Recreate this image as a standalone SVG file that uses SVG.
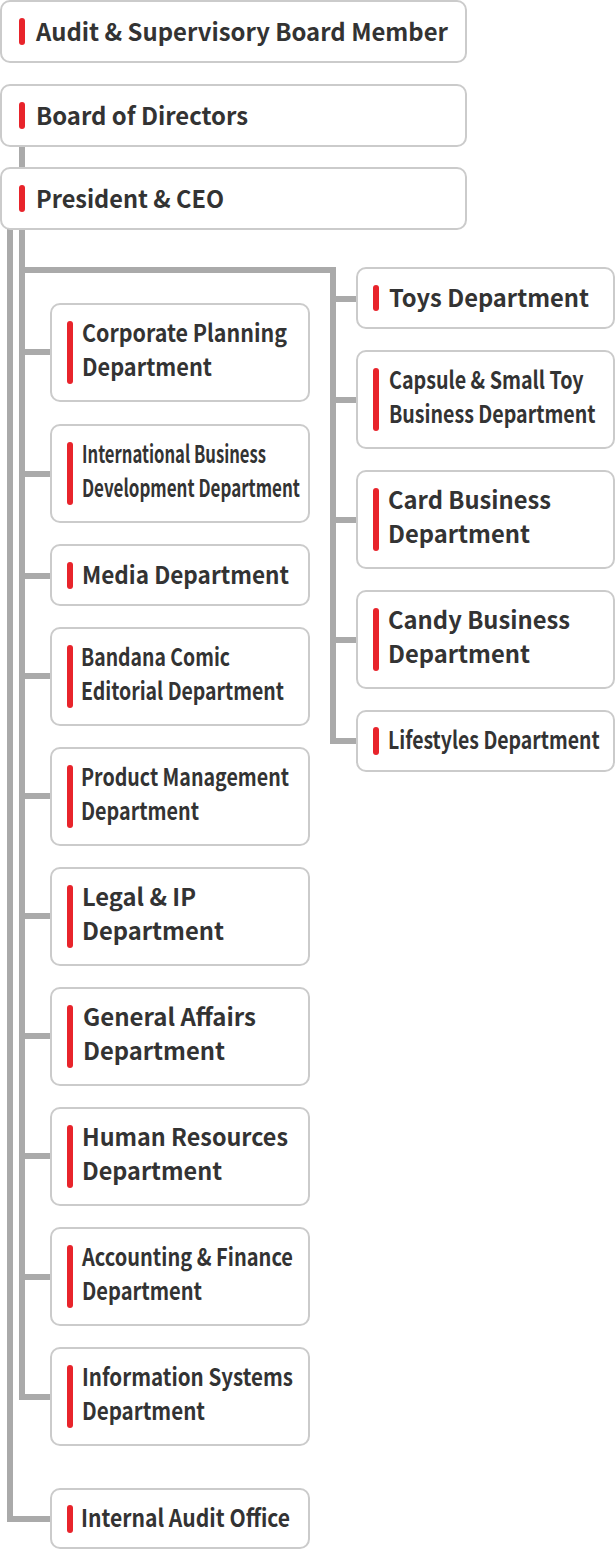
<svg xmlns="http://www.w3.org/2000/svg" width="616" height="1550" viewBox="0 0 616 1550">
<style>
.box{fill:#fff;stroke:#cbcbcb;stroke-width:2}
.bar{fill:#e8242b}
.ln{fill:none;stroke:#aaaaaa;stroke-width:6}
text{font-family:"Noto Sans CJK KR","Noto Sans",sans-serif;font-weight:700;font-size:24px;fill:#333}
</style>
<rect width="616" height="1550" fill="#fff"/>
<g id="connectors">
<path class="ln" d="M22 146V1397H51"/>
<path class="ln" d="M10 229V1519H51"/>
<path class="ln" d="M22 270H333V741H357"/>
<path class="ln" d="M333 299H357M333 400H357M333 520H357M333 640H357"/>
<path class="ln" d="M22 352H51M22 474H51M22 576H51M22 676H51M22 796H51M22 916H51M22 1036H51M22 1156H51M22 1277H51"/>
</g>
<g id="audit"><rect class="box" x="1" y="1" width="465" height="61" rx="9"/><rect class="bar" x="19" y="18" width="6" height="27" rx="3"/><text x="36" y="41" textLength="412" lengthAdjust="spacingAndGlyphs">Audit &amp; Supervisory Board Member</text></g>
<g id="board"><rect class="box" x="1" y="85" width="465" height="61" rx="9"/><rect class="bar" x="19" y="102" width="6" height="27" rx="3"/><text x="36" y="125" textLength="212" lengthAdjust="spacingAndGlyphs">Board of Directors</text></g>
<g id="president"><rect class="box" x="1" y="168" width="465" height="61" rx="9"/><rect class="bar" x="19" y="185" width="6" height="27" rx="3"/><text x="36" y="208" textLength="188" lengthAdjust="spacingAndGlyphs">President &amp; CEO</text></g>
<g id="toys"><rect class="box" x="357" y="268" width="257" height="60" rx="9"/><rect class="bar" x="373" y="285" width="6" height="26" rx="3"/><text x="389" y="307" textLength="200" lengthAdjust="spacingAndGlyphs">Toys Department</text></g>
<g id="capsule"><rect class="box" x="357" y="351" width="257" height="97" rx="9"/><rect class="bar" x="373" y="368" width="6" height="63" rx="3"/><text transform="matrix(0.85 0 0 1 389 389)" textLength="229" lengthAdjust="spacingAndGlyphs">Capsule &amp; Small Toy</text><text transform="matrix(0.85 0 0 1 389 423)" textLength="243" lengthAdjust="spacingAndGlyphs">Business Department</text></g>
<g id="card"><rect class="box" x="357" y="471" width="257" height="97" rx="9"/><rect class="bar" x="373" y="488" width="6" height="63" rx="3"/><text x="388" y="509" textLength="163" lengthAdjust="spacingAndGlyphs">Card Business</text><text x="388" y="543" textLength="142" lengthAdjust="spacingAndGlyphs">Department</text></g>
<g id="candy"><rect class="box" x="357" y="591" width="257" height="97" rx="9"/><rect class="bar" x="373" y="608" width="6" height="63" rx="3"/><text x="388" y="629" textLength="182" lengthAdjust="spacingAndGlyphs">Candy Business</text><text x="388" y="663" textLength="142" lengthAdjust="spacingAndGlyphs">Department</text></g>
<g id="lifestyles"><rect class="box" x="357" y="711" width="257" height="60" rx="9"/><rect class="bar" x="373" y="727" width="6" height="28" rx="3"/><text transform="matrix(0.85 0 0 1 388 749)" textLength="249" lengthAdjust="spacingAndGlyphs">Lifestyles Department</text></g>
<g id="corporate"><rect class="box" x="51" y="304" width="258" height="97" rx="9"/><rect class="bar" x="67" y="321" width="6" height="63" rx="3"/><text x="82" y="342" textLength="205" lengthAdjust="spacingAndGlyphs">Corporate Planning</text><text x="82" y="376" textLength="130" lengthAdjust="spacingAndGlyphs">Department</text></g>
<g id="international"><rect class="box" x="51" y="425" width="258" height="97" rx="9"/><rect class="bar" x="67" y="442" width="6" height="63" rx="3"/><text x="82" y="463" textLength="184" lengthAdjust="spacingAndGlyphs">International Business</text><text x="82" y="497" textLength="218" lengthAdjust="spacingAndGlyphs">Development Department</text></g>
<g id="media"><rect class="box" x="51" y="545" width="258" height="60" rx="9"/><rect class="bar" x="67" y="562" width="6" height="27" rx="3"/><text x="82" y="584" textLength="207" lengthAdjust="spacingAndGlyphs">Media Department</text></g>
<g id="bandana"><rect class="box" x="51" y="628" width="258" height="97" rx="9"/><rect class="bar" x="67" y="645" width="6" height="63" rx="3"/><text x="81" y="666" textLength="149" lengthAdjust="spacingAndGlyphs">Bandana Comic</text><text x="81" y="700" textLength="203" lengthAdjust="spacingAndGlyphs">Editorial Department</text></g>
<g id="product"><rect class="box" x="51" y="748" width="258" height="97" rx="9"/><rect class="bar" x="67" y="765" width="6" height="63" rx="3"/><text x="81" y="786" textLength="208" lengthAdjust="spacingAndGlyphs">Product Management</text><text x="81" y="820" textLength="118" lengthAdjust="spacingAndGlyphs">Department</text></g>
<g id="legal"><rect class="box" x="51" y="868" width="258" height="97" rx="9"/><rect class="bar" x="67" y="885" width="6" height="63" rx="3"/><text x="82" y="906" textLength="114" lengthAdjust="spacingAndGlyphs">Legal &amp; IP</text><text x="82" y="940" textLength="142" lengthAdjust="spacingAndGlyphs">Department</text></g>
<g id="general"><rect class="box" x="51" y="988" width="258" height="97" rx="9"/><rect class="bar" x="67" y="1005" width="6" height="63" rx="3"/><text x="83" y="1026" textLength="173" lengthAdjust="spacingAndGlyphs">General Affairs</text><text x="83" y="1060" textLength="142" lengthAdjust="spacingAndGlyphs">Department</text></g>
<g id="human"><rect class="box" x="51" y="1108" width="258" height="97" rx="9"/><rect class="bar" x="67" y="1125" width="6" height="63" rx="3"/><text x="82" y="1146" textLength="206" lengthAdjust="spacingAndGlyphs">Human Resources</text><text x="82" y="1180" textLength="140" lengthAdjust="spacingAndGlyphs">Department</text></g>
<g id="accounting"><rect class="box" x="51" y="1228" width="258" height="97" rx="9"/><rect class="bar" x="67" y="1245" width="6" height="63" rx="3"/><text x="82" y="1266" textLength="211" lengthAdjust="spacingAndGlyphs">Accounting &amp; Finance</text><text x="82" y="1300" textLength="120" lengthAdjust="spacingAndGlyphs">Department</text></g>
<g id="information"><rect class="box" x="51" y="1348" width="258" height="97" rx="9"/><rect class="bar" x="67" y="1365" width="6" height="63" rx="3"/><text x="82" y="1386" textLength="211" lengthAdjust="spacingAndGlyphs">Information Systems</text><text x="82" y="1420" textLength="123" lengthAdjust="spacingAndGlyphs">Department</text></g>
<g id="internal"><rect class="box" x="51" y="1489" width="258" height="59" rx="9"/><rect class="bar" x="67" y="1505" width="6" height="28" rx="3"/><text x="81" y="1527" textLength="209" lengthAdjust="spacingAndGlyphs">Internal Audit Office</text></g>
</svg>
